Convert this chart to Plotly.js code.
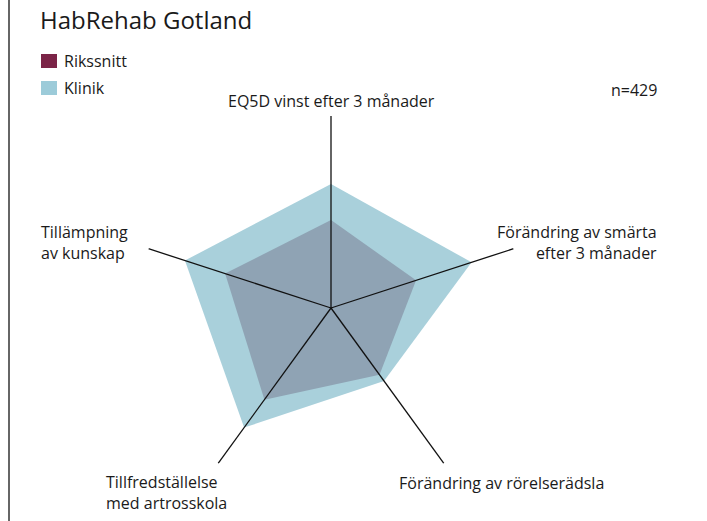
<!DOCTYPE html>
<html>
<head>
<meta charset="utf-8">
<script src="https://cdn.plot.ly/plotly-3.0.1.min.js"></script>
<style>html,body{margin:0;padding:0;background:#fff;}#chart{width:707px;height:521px;}</style>
</head>
<body>
<div id="chart"></div>
<script>
const categories = [
  "EQ5D vinst efter 3 månader",
  "Förändring av smärta efter 3 månader",
  "Förändring av rörelserädsla",
  "Tillfredställelse med artrosskola",
  "Tillämpning av kunskap"
];
const labelTexts = [
  "EQ5D vinst efter 3 månader",
  "Förändring av smärta<br>efter 3 månader",
  "Förändring av rörelserädsla",
  "Tillfredställelse<br>med artrosskola",
  "Tillämpning<br>av kunskap"
];
const klinik = [0.646, 0.77, 0.47, 0.77, 0.80];
const rikssnitt = [0.458, 0.466, 0.43, 0.59, 0.58];
const seriesNames = ["Rikssnitt", "Klinik"];
const titleText = "HabRehab Gotland";
const nText = "n=429";
const axisMax = 1;

const font = "Open Sans, Noto Sans, sans-serif";
const txt = "#1a1a1a";

const traces = [
  {
    type: "scatterpolar", r: klinik, theta: categories, fill: "toself",
    fillcolor: "#a9d0db", line: {width: 0, color: "rgba(0,0,0,0)"}, mode: "lines",
    name: seriesNames[1], showlegend: false, hoverinfo: "skip"
  },
  {
    type: "scatterpolar", r: rikssnitt, theta: categories, fill: "toself",
    fillcolor: "#8fa3b4", line: {width: 0, color: "rgba(0,0,0,0)"}, mode: "lines",
    name: seriesNames[0], showlegend: false, hoverinfo: "skip"
  }
];
// axis spokes drawn above the fills
categories.forEach(c => traces.push({
  type: "scatterpolar", r: [0, axisMax], theta: [c, c], mode: "lines",
  line: {color: "#111111", width: 1.3}, showlegend: false, hoverinfo: "skip"
}));

const ann = (text, x, y, xanchor, align, size) => ({
  text, x, y, xref: "paper", yref: "paper", xanchor, yanchor: "middle",
  align, showarrow: false, font: {family: font, size: size || 16, color: txt}
});
const py = v => 1 - v / 521;
const px = v => v / 707;

const annotations = [
  ann(labelTexts[0], px(331), py(101), "center", "center"),
  ann(labelTexts[1], px(659), py(242), "right", "right"),
  ann(labelTexts[2], px(397), py(483), "left", "left"),
  ann(labelTexts[3], px(104), py(492), "left", "left"),
  ann(labelTexts[4], px(39), py(242), "left", "left"),
  ann(nText, px(659), py(90), "right", "right"),
  ann(seriesNames[0], px(62), py(61), "left", "left"),
  ann(seriesNames[1], px(62), py(88), "left", "left"),
  {text: titleText, x: px(38), y: py(19), xref: "paper", yref: "paper", xanchor: "left",
   yanchor: "middle", showarrow: false, font: {family: font, size: 24, color: txt}}
];

const shapes = [
  {type: "rect", xref: "paper", yref: "paper", x0: px(41), x1: px(57), y0: py(54), y1: py(68),
   fillcolor: "#7b2447", line: {width: 0}},
  {type: "rect", xref: "paper", yref: "paper", x0: px(41), x1: px(57), y0: py(81), y1: py(95),
   fillcolor: "#9ccbd9", line: {width: 0}},
  {type: "line", xref: "paper", yref: "paper", x0: px(9), x1: px(9), y0: 0, y1: 1,
   line: {color: "#333333", width: 1.5}}
];

const layout = {
  width: 707, height: 521,
  margin: {l: 0, r: 0, t: 0, b: 0},
  paper_bgcolor: "#ffffff",
  showlegend: false,
  polar: {
    domain: {x: [139/707, 523/707], y: [21/521, 405/521]},
    bgcolor: "rgba(0,0,0,0)",
    radialaxis: {visible: false, range: [0, axisMax]},
    angularaxis: {
      type: "category", rotation: 90, direction: "clockwise",
      showline: false, showticklabels: false, ticks: "", showgrid: false
    }
  },
  annotations, shapes
};

Plotly.newPlot("chart", traces, layout, {displayModeBar: false, staticPlot: true});
</script>
</body>
</html>
